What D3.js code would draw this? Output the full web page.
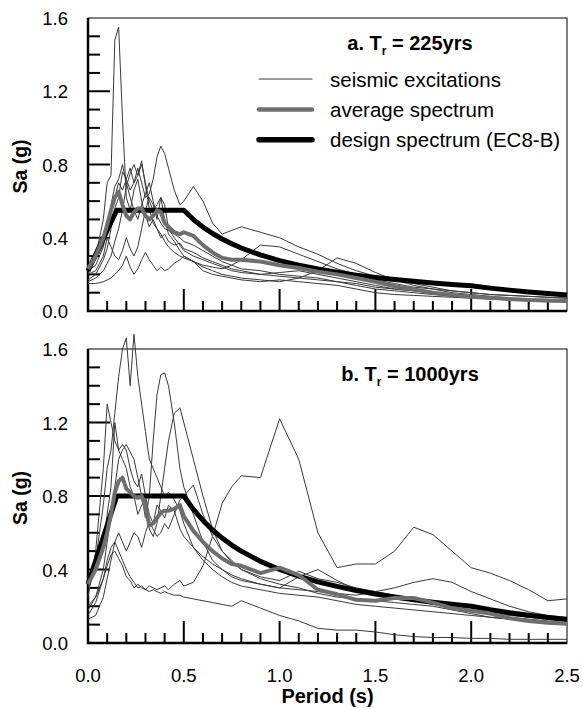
<!DOCTYPE html>
<html>
<head>
<meta charset="utf-8">
<script src="https://cdn.jsdelivr.net/npm/d3@7"></script>
<style>
  body { margin: 0; background: #fff; }
  text { font-family: "Liberation Sans", Arial, sans-serif; }
</style>
</head>
<body>
<svg id="chart" width="583" height="709"></svg>
<script>
// periods (s) shared by every record and average curve
const periods = [0, 0.04, 0.08, 0.1, 0.12, 0.14, 0.16, 0.18, 0.2, 0.22, 0.24, 0.26, 0.28, 0.3, 0.32, 0.34, 0.36, 0.38, 0.4, 0.42, 0.45, 0.48, 0.5, 0.55, 0.6, 0.65, 0.7, 0.75, 0.8, 0.9, 1.0, 1.1, 1.2, 1.3, 1.4, 1.5, 1.6, 1.7, 1.8, 1.9, 2.0, 2.1, 2.2, 2.3, 2.4, 2.5];

// panel a, Tr = 225yrs
const recordsA = [
  [0.20,0.30,0.50,0.70,0.74,1.48,1.55,1.05,0.62,0.55,0.66,0.72,0.60,0.52,0.46,0.50,0.45,0.40,0.42,0.38,0.36,0.37,0.34,0.32,0.29,0.27,0.25,0.23,0.22,0.20,0.19,0.18,0.17,0.16,0.14,0.12,0.11,0.10,0.09,0.08,0.075,0.07,0.065,0.06,0.055,0.05],
  [0.17,0.20,0.28,0.34,0.45,0.56,0.62,0.76,0.72,0.66,0.70,0.78,0.70,0.62,0.64,0.72,0.84,0.90,0.86,0.78,0.66,0.58,0.60,0.68,0.60,0.48,0.42,0.44,0.46,0.43,0.40,0.35,0.31,0.26,0.22,0.19,0.17,0.15,0.13,0.11,0.10,0.09,0.085,0.08,0.075,0.07],
  [0.16,0.18,0.22,0.26,0.30,0.38,0.45,0.55,0.68,0.75,0.80,0.74,0.80,0.70,0.60,0.55,0.58,0.62,0.50,0.42,0.38,0.33,0.30,0.27,0.24,0.22,0.20,0.19,0.18,0.17,0.16,0.18,0.22,0.29,0.26,0.21,0.17,0.14,0.12,0.10,0.09,0.08,0.07,0.065,0.06,0.055],
  [0.24,0.28,0.36,0.42,0.55,0.62,0.70,0.66,0.72,0.78,0.70,0.74,0.82,0.68,0.56,0.48,0.45,0.42,0.38,0.35,0.32,0.30,0.29,0.27,0.25,0.24,0.23,0.25,0.28,0.36,0.35,0.31,0.27,0.23,0.20,0.17,0.15,0.13,0.12,0.11,0.10,0.09,0.085,0.08,0.075,0.07],
  [0.15,0.15,0.16,0.17,0.18,0.20,0.22,0.25,0.30,0.24,0.20,0.23,0.28,0.32,0.28,0.25,0.22,0.24,0.22,0.23,0.26,0.28,0.30,0.27,0.22,0.20,0.19,0.18,0.17,0.16,0.17,0.16,0.15,0.14,0.12,0.10,0.09,0.085,0.08,0.075,0.07,0.065,0.06,0.055,0.05,0.05],
  [0.22,0.25,0.35,0.45,0.58,0.68,0.72,0.80,0.70,0.62,0.55,0.50,0.58,0.64,0.70,0.60,0.52,0.48,0.45,0.44,0.42,0.40,0.38,0.36,0.33,0.30,0.27,0.25,0.23,0.22,0.20,0.19,0.18,0.16,0.15,0.13,0.12,0.11,0.10,0.09,0.08,0.075,0.07,0.065,0.06,0.055],
  [0.20,0.22,0.30,0.40,0.35,0.30,0.28,0.33,0.40,0.34,0.30,0.35,0.45,0.55,0.62,0.58,0.50,0.62,0.58,0.45,0.40,0.36,0.33,0.30,0.28,0.26,0.24,0.22,0.21,0.20,0.21,0.22,0.20,0.18,0.16,0.14,0.12,0.11,0.10,0.09,0.08,0.075,0.07,0.06,0.055,0.05]
];
const averageA = [0.23,0.30,0.40,0.47,0.55,0.62,0.65,0.58,0.52,0.50,0.54,0.56,0.56,0.52,0.50,0.52,0.55,0.54,0.48,0.46,0.43,0.42,0.43,0.41,0.36,0.32,0.29,0.28,0.28,0.27,0.25,0.235,0.215,0.20,0.18,0.16,0.135,0.118,0.10,0.088,0.078,0.072,0.066,0.06,0.057,0.055];

// panel b, Tr = 1000yrs
const recordsB = [
  [0.20,0.25,0.35,0.42,0.48,0.50,0.46,0.42,0.36,0.34,0.30,0.32,0.30,0.29,0.31,0.30,0.29,0.30,0.31,0.29,0.32,0.34,0.31,0.33,0.42,0.58,0.76,0.85,0.91,0.90,1.22,1.00,0.60,0.41,0.43,0.43,0.50,0.63,0.59,0.50,0.41,0.38,0.34,0.29,0.23,0.24],
  [0.15,0.22,0.35,0.45,0.52,0.55,0.50,0.45,0.40,0.36,0.33,0.30,0.31,0.29,0.28,0.29,0.28,0.27,0.28,0.27,0.26,0.26,0.25,0.24,0.23,0.22,0.21,0.20,0.23,0.19,0.15,0.12,0.08,0.07,0.07,0.06,0.045,0.035,0.03,0.03,0.025,0.025,0.02,0.02,0.02,0.02],
  [0.30,0.45,0.75,0.95,1.05,1.25,1.45,1.60,1.66,1.40,1.68,1.45,1.30,1.15,1.00,0.95,0.90,0.85,0.80,0.82,0.78,0.72,0.65,0.52,0.45,0.40,0.36,0.33,0.31,0.29,0.27,0.26,0.25,0.23,0.21,0.20,0.19,0.18,0.17,0.16,0.15,0.14,0.13,0.12,0.11,0.10],
  [0.18,0.25,0.40,0.55,0.70,0.85,1.00,1.05,1.08,1.04,1.00,0.90,0.80,0.68,0.80,1.10,1.35,1.46,1.47,1.40,1.20,0.95,0.85,0.70,0.55,0.45,0.40,0.37,0.35,0.32,0.30,0.29,0.28,0.27,0.26,0.28,0.30,0.33,0.35,0.33,0.28,0.24,0.20,0.17,0.15,0.14],
  [0.25,0.50,0.95,1.30,1.20,1.10,1.05,1.00,0.95,0.85,0.80,0.70,0.75,0.78,0.62,0.58,0.65,0.80,0.95,1.10,1.25,1.28,1.20,1.00,0.80,0.62,0.50,0.44,0.40,0.36,0.34,0.39,0.35,0.33,0.30,0.28,0.26,0.24,0.22,0.20,0.18,0.16,0.14,0.13,0.12,0.11],
  [0.33,0.40,0.55,0.70,0.85,1.20,1.05,1.08,1.05,0.95,0.88,0.85,0.92,0.80,0.70,0.65,0.75,0.72,0.68,0.75,0.72,0.62,0.58,0.52,0.47,0.43,0.40,0.36,0.34,0.32,0.30,0.36,0.40,0.34,0.29,0.27,0.25,0.23,0.21,0.19,0.17,0.16,0.15,0.14,0.13,0.12],
  [0.13,0.15,0.25,0.35,0.45,0.55,0.60,0.55,0.50,0.55,0.60,0.58,0.52,0.60,0.66,0.62,0.58,0.60,0.65,0.62,0.70,0.78,0.80,0.86,0.70,0.58,0.50,0.45,0.40,0.35,0.32,0.30,0.27,0.25,0.24,0.23,0.22,0.21,0.20,0.18,0.16,0.14,0.13,0.12,0.115,0.11]
];
const averageB = [0.32,0.40,0.52,0.60,0.70,0.82,0.88,0.90,0.84,0.82,0.80,0.79,0.80,0.74,0.64,0.65,0.68,0.71,0.72,0.72,0.73,0.75,0.69,0.61,0.55,0.50,0.46,0.43,0.42,0.38,0.41,0.37,0.29,0.265,0.235,0.23,0.245,0.245,0.22,0.19,0.175,0.16,0.135,0.12,0.11,0.105];

// design spectra (EC8, soil B)
const designT = [0, 0.15, 0.5, 0.55, 0.6, 0.65, 0.7, 0.75, 0.8, 0.9, 1.0, 1.1, 1.2, 1.3, 1.4, 1.5, 1.6, 1.7, 1.8, 1.9, 2.0, 2.1, 2.2, 2.3, 2.4, 2.5];
const designA = [0.22,0.55,0.55,0.50,0.458,0.423,0.393,0.367,0.344,0.306,0.275,0.25,0.229,0.212,0.196,0.183,0.172,0.162,0.153,0.145,0.1375,0.125,0.114,0.104,0.095,0.088];
const designB = [0.32,0.80,0.80,0.727,0.667,0.615,0.571,0.533,0.50,0.444,0.40,0.364,0.333,0.308,0.286,0.267,0.25,0.235,0.222,0.211,0.20,0.181,0.165,0.151,0.139,0.128];

const yTickLabels = [0, 0.4, 0.8, 1.2, 1.6];
const xTickLabels = [0, 0.5, 1.0, 1.5, 2.0, 2.5];
const legendLabels = ["seismic excitations", "average spectrum", "design spectrum (EC8-B)"];

const svg = d3.select("#chart");
const left = 88, right = 567;

const x = d3.scaleLinear().domain([0, 2.5]).range([left, right]);

const drawPanel = (top, bottom, records, average, design, letter, tr, showXLabels) => {
    const y = d3.scaleLinear().domain([0, 1.6]).range([bottom, top]);
    const g = svg.append("g");

    const line = d3.line()
        .x((d) => x(d[0]))
        .y((d) => y(d[1]));

    // frame: thin top/right, heavier left/bottom
    g.append("rect")
        .attr("x", left).attr("y", top)
        .attr("width", right - left).attr("height", bottom - top)
        .attr("fill", "none").attr("stroke", "#000").attr("stroke-width", 1);
    g.append("path")
        .attr("d", `M${left},${top}V${bottom}H${right}`)
        .attr("fill", "none").attr("stroke", "#000").attr("stroke-width", 2.5);

    // inward ticks
    const yTicks = d3.range(1, 16).map((i) => i / 10);
    g.selectAll(".ytick").data(yTicks).join("line")
        .attr("x1", left)
        .attr("x2", (d) => (Math.round(d * 10) % 4 === 0 ? left + 22 : left + 12))
        .attr("y1", (d) => y(d)).attr("y2", (d) => y(d))
        .attr("stroke", "#000").attr("stroke-width", 2);
    const xTicks = d3.range(1, 25).map((i) => i / 10);
    g.selectAll(".xtick").data(xTicks).join("line")
        .attr("x1", (d) => x(d)).attr("x2", (d) => x(d))
        .attr("y1", bottom)
        .attr("y2", (d) => (Math.round(d * 10) % 5 === 0 ? bottom - 22 : bottom - 10))
        .attr("stroke", "#000").attr("stroke-width", 2);

    g.selectAll(".ylab").data(yTickLabels).join("text")
        .attr("x", 68).attr("y", (d) => y(d) + 7)
        .attr("text-anchor", "end")
        .attr("font-size", 18.5)
        .text((d) => d.toFixed(1));

    if (showXLabels) {
        g.selectAll(".xlab").data(xTickLabels).join("text")
            .attr("x", (d) => x(d)).attr("y", bottom + 39)
            .attr("text-anchor", "middle")
            .attr("font-size", 18.5)
            .text((d) => d.toFixed(1));
    }

    g.append("text")
        .attr("transform", `translate(27,${(top + bottom) / 2 + 2}) rotate(-90)`)
        .attr("text-anchor", "middle")
        .attr("font-size", 19.5).attr("font-weight", "bold")
        .text("Sa (g)");

    // seismic excitations
    g.append("g").selectAll("path").data(records).join("path")
        .attr("d", (r) => line(r.map((v, i) => [periods[i], v])))
        .attr("fill", "none").attr("stroke", "#3a3a3a").attr("stroke-width", 1);

    // design spectrum
    g.append("path")
        .attr("d", line(design.map((v, i) => [designT[i], v])))
        .attr("fill", "none").attr("stroke", "#000").attr("stroke-width", 5)
        .attr("stroke-linejoin", "round");

    // average spectrum
    g.append("path")
        .attr("d", line(average.map((v, i) => [periods[i], v])))
        .attr("fill", "none").attr("stroke", "#6e6e6e").attr("stroke-width", 4)
        .attr("stroke-linejoin", "round");

    const title = g.append("text")
        .attr("x", 410).attr("y", top + 32)
        .attr("text-anchor", "middle")
        .attr("font-size", 20).attr("font-weight", "bold");
    title.append("tspan").text(`${letter}. T`);
    title.append("tspan").attr("font-size", 12).attr("dy", 5).text("r");
    title.append("tspan").attr("dy", -5).text(` = ${tr}yrs`);

    return g;
};

const gA = drawPanel(18, 311, recordsA, averageA, designA, "a", "225", false);
drawPanel(349, 643, recordsB, averageB, designB, "b", "1000", true);

// legend in panel a
const legendStyles = [
    { stroke: "#3a3a3a", width: 1 },
    { stroke: "#6e6e6e", width: 4.5 },
    { stroke: "#000", width: 5.5 },
];
const legend = gA.append("g");
legend.selectAll("line").data(legendStyles).join("line")
    .attr("x1", 259).attr("x2", 312)
    .attr("y1", (d, i) => 79 + i * 30.4).attr("y2", (d, i) => 79 + i * 30.4)
    .attr("stroke", (d) => d.stroke).attr("stroke-width", (d) => d.width)
    .attr("stroke-linecap", "round");
legend.selectAll("text").data(legendLabels).join("text")
    .attr("x", 330).attr("y", (d, i) => 86.5 + i * 30.4)
    .attr("font-size", 20.5)
    .text((d) => d);

svg.append("text")
    .attr("x", (left + right) / 2).attr("y", 703)
    .attr("text-anchor", "middle")
    .attr("font-size", 20).attr("font-weight", "bold")
    .text("Period (s)");
</script>
</body>
</html>
